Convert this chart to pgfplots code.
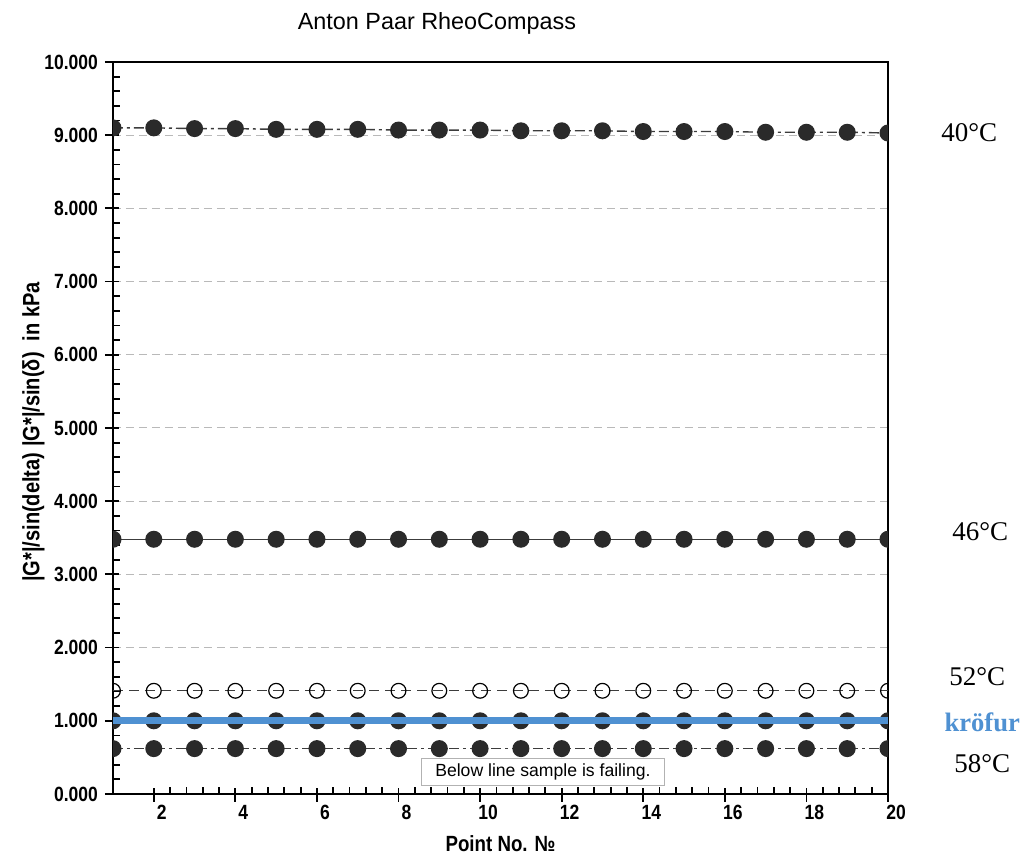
\documentclass[border=0pt]{standalone}
\usepackage{pgfplots}
\pgfplotsset{compat=1.18}
\usepackage{fontspec}
\setmainfont{Liberation Sans}
\newfontfamily\serif{Liberation Serif}
\newfontfamily\narrow[FakeStretch=0.85]{Liberation Sans}
\definecolor{mk}{RGB}{42,42,42}
\definecolor{ln}{RGB}{60,60,60}
\definecolor{kblue}{RGB}{79,145,210}
\pgfplotstableread{
x y
1 9.10
2 9.10
3 9.09
4 9.09
5 9.08
6 9.08
7 9.08
8 9.07
9 9.07
10 9.07
11 9.06
12 9.06
13 9.06
14 9.05
15 9.05
16 9.05
17 9.04
18 9.04
19 9.04
20 9.03
}\tfourty
\pgfplotstableread{
x y
1 3.48
2 3.48
3 3.48
4 3.48
5 3.48
6 3.48
7 3.48
8 3.48
9 3.48
10 3.48
11 3.48
12 3.48
13 3.48
14 3.48
15 3.48
16 3.48
17 3.48
18 3.48
19 3.48
20 3.48
}\tfortysix
\pgfplotstableread{
x y
1 1.41
2 1.41
3 1.41
4 1.41
5 1.41
6 1.41
7 1.41
8 1.41
9 1.41
10 1.41
11 1.41
12 1.41
13 1.41
14 1.41
15 1.41
16 1.41
17 1.41
18 1.41
19 1.41
20 1.41
}\tfiftytwo
\pgfplotstableread{
x y
1 1.00
2 1.00
3 1.00
4 1.00
5 1.00
6 1.00
7 1.00
8 1.00
9 1.00
10 1.00
11 1.00
12 1.00
13 1.00
14 1.00
15 1.00
16 1.00
17 1.00
18 1.00
19 1.00
20 1.00
}\tone
\pgfplotstableread{
x y
1 0.62
2 0.62
3 0.62
4 0.62
5 0.62
6 0.62
7 0.62
8 0.62
9 0.62
10 0.62
11 0.62
12 0.62
13 0.62
14 0.62
15 0.62
16 0.62
17 0.62
18 0.62
19 0.62
20 0.62
}\tfiftyeight
\begin{document}
\begin{tikzpicture}
\begin{axis}[
  at={(0,0)}, anchor=south west,
  scale only axis, width=387.5pt, height=366pt,
  xmin=1, xmax=20, ymin=0, ymax=10,
  xtick={2,4,...,20}, ytick={0,1,...,10},
  minor x tick num=4, minor y tick num=4,
  xtick pos=bottom, ytick pos=left,
  tick align=inside,
  major tick length=7pt, minor tick length=3.5pt,
  major x tick style={yshift=-4pt},
  major y tick style={xshift=-4pt},
  tick style={black, line width=0.9pt},
  axis line style={black, line width=0.9pt},
  ymajorgrids,
  major y grid style={gray!55, dash pattern=on 4pt off 2.5pt, line width=0.5pt, xshift=0pt},
  /pgf/number format/assume math mode=true,
  yticklabel style={xshift=-4pt, /pgf/number format/.cd, fixed, fixed zerofill, precision=3, 1000 sep={}},
  ticklabel style={font=\narrow\fontsize{10.3}{11}\selectfont\bfseries},
  xticklabel style={xshift=4pt, yshift=-2pt},
  ylabel={|G*|/sin(delta) |G*|/sin(δ)~~in kPa},
  ylabel style={font=\narrow\fontsize{11.8}{12}\selectfont\bfseries, xshift=-2pt, yshift=-7pt},
  xlabel={Point No. №},
  xlabel style={font=\narrow\fontsize{11}{12}\selectfont\bfseries, yshift=-1pt},
  clip mode=individual, clip marker paths=true,
]
\addplot[ln, line width=0.7pt, dash pattern=on 5pt off 2pt on 1.5pt off 2pt, mark=*, mark size=3.9pt, mark options={solid, fill=mk, draw=mk}] table {\tfourty};
\addplot[ln, line width=0.7pt, mark=*, mark size=3.9pt, mark options={solid, fill=mk, draw=mk}] table {\tfortysix};
\addplot[ln, line width=0.7pt, dash pattern=on 5pt off 3pt, mark=o, mark size=3.7pt, mark options={solid, fill=white, draw=black, line width=0.6pt}] table {\tfiftytwo};
\addplot[ln, line width=0.7pt, mark=*, mark size=3.9pt, mark options={solid, fill=mk, draw=mk}] table {\tone};
\addplot[ln, line width=0.7pt, dash pattern=on 5pt off 2pt on 1.5pt off 2pt, mark=*, mark size=3.9pt, mark options={solid, fill=mk, draw=mk}] table {\tfiftyeight};
\addplot[kblue, line width=3.5pt, no marks] table {\tone};
\node[font=\fontsize{11.7}{13}\selectfont] at (axis description cs:0.418,1) [yshift=19.5pt] {Anton Paar RheoCompass};
\node[font=\serif\fontsize{13.5}{15}\selectfont] at (axis cs:21.99,9.04) {40°C};
\node[font=\serif\fontsize{13.5}{15}\selectfont] at (axis cs:22.26,3.59) {46°C};
\node[font=\serif\fontsize{13.5}{15}\selectfont] at (axis cs:22.19,1.60) {52°C};
\node[font=\serif\fontsize{13.3}{15}\selectfont\bfseries, text=kblue] at (axis cs:22.31,0.98) {kröfur};
\node[font=\serif\fontsize{13.5}{15}\selectfont] at (axis cs:22.31,0.42) {58°C};
\node[draw=gray!60, line width=0.6pt, fill=white, inner xsep=7pt, inner ysep=2.5pt, font=\fontsize{8.8}{10}\selectfont] at (axis cs:11.54,0.30) {Below line sample is failing.};
\end{axis}
\pgfresetboundingbox
\path[use as bounding box] (-56.5pt,-30.5pt) rectangle (454.5pt,397pt);
\end{tikzpicture}
\end{document}
